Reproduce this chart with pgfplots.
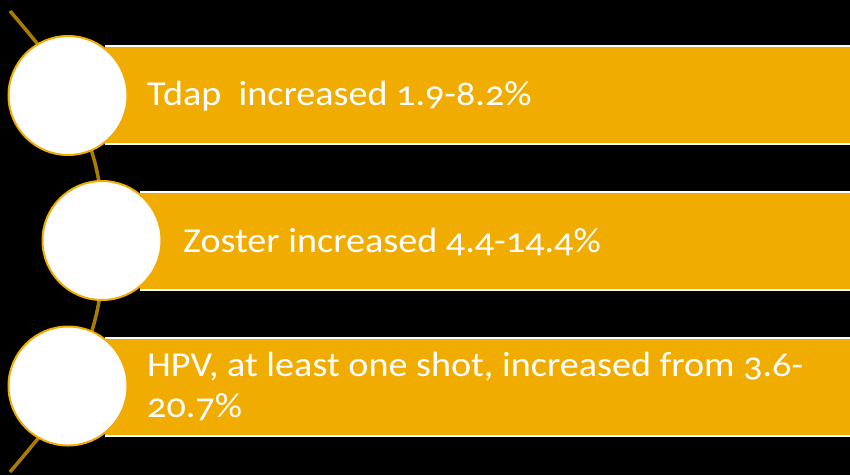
\documentclass[border=0pt]{standalone}
\usepackage{pgfplots}
\pgfplotsset{compat=1.18}
\usepackage{graphicx}
\usepackage{fontspec}
\setmainfont[Numbers=OldStyle]{Carlito}
\definecolor{barc}{RGB}{240,172,0}
\definecolor{arcc}{RGB}{170,125,0}
\newcommand{\wtxt}[1]{\scalebox{1.09}[1]{#1}}
\begin{document}
\begin{tikzpicture}
\begin{axis}[
  scale only axis, width=850pt, height=475pt,
  xmin=0, xmax=850, ymin=0, ymax=475, y dir=reverse,
  axis lines=none, clip=true,
  axis background/.style={fill=black},
]
% arc
\addplot[arcc, line width=3.5pt, smooth] coordinates {
 (10,11) (49.7,60) (77.0,110) (94.2,160) (101.8,200) (104.4,241.5)
 (101.8,283) (94.2,323) (77.0,373) (49.7,423) (10,472)};
% bars
\addplot[fill=barc, draw=none] coordinates {(105,46) (860,46) (860,144) (105,144)} -- cycle;
\addplot[fill=barc, draw=none] coordinates {(140,192) (860,192) (860,290) (140,290)} -- cycle;
\addplot[fill=barc, draw=none] coordinates {(105,338) (860,338) (860,436) (105,436)} -- cycle;
\addplot[white, line width=2pt] coordinates {(105,46) (860,46)};
\addplot[white, line width=2pt] coordinates {(105,144) (860,144)};
\addplot[white, line width=2pt] coordinates {(140,192) (860,192)};
\addplot[white, line width=2pt] coordinates {(140,290) (860,290)};
\addplot[white, line width=2pt] coordinates {(105,338) (860,338)};
\addplot[white, line width=2pt] coordinates {(105,436) (860,436)};
% circles
\addplot[only marks, mark=*, mark size=59.5pt, mark options={fill=white, draw=barc, line width=2pt}]
 coordinates {(68,95.5) (102,240.5) (68,386)};
% text
\node[anchor=base west, white, font=\fontsize{35}{41}\selectfont, inner sep=0pt] at (axis cs:147,105) {\wtxt{Tdap\ \ increased 1.9-8.2\%}};
\node[anchor=base west, white, font=\fontsize{35}{41}\selectfont, inner sep=0pt] at (axis cs:183,252) {\wtxt{Zoster increased 4.4-14.4\%}};
\node[anchor=base west, white, font=\fontsize{35}{41}\selectfont, inner sep=0pt] at (axis cs:147,376) {\wtxt{HPV, at least one shot, increased from 3.6-}};
\node[anchor=base west, white, font=\fontsize{35}{41}\selectfont, inner sep=0pt] at (axis cs:147,417) {\wtxt{20.7\%}};
\end{axis}
\end{tikzpicture}
\end{document}
